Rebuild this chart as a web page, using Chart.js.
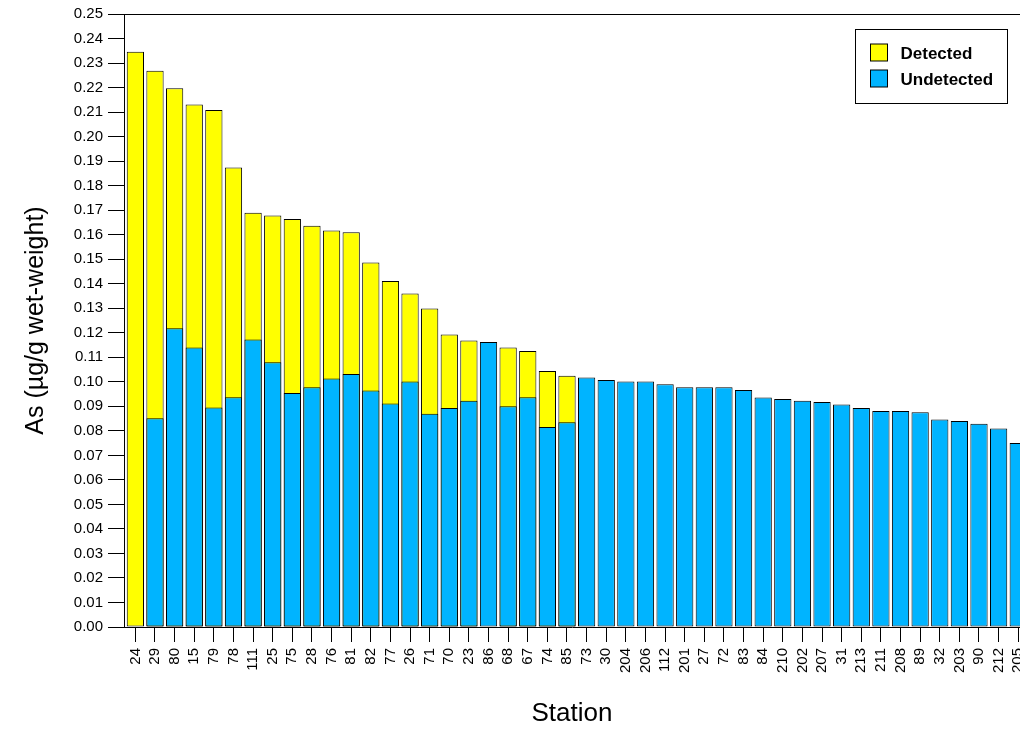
<!DOCTYPE html>
<html>
<head>
<meta charset="utf-8">
<script src="https://cdn.jsdelivr.net/npm/chart.js@4"></script>
<style>
  html, body { margin: 0; padding: 0; background: #fff; overflow: hidden; }
  #wrap { width: 1020px; height: 729px; position: relative; }
</style>
</head>
<body>
<div id="wrap"><canvas id="chart"></canvas></div>
<script>
// stations along the x axis, in drawing order
const stations = ['24', '29', '80', '15', '79', '78', '111', '25', '75', '28', '76', '81', '82', '77', '26', '71', '70', '23', '86', '68', '67', '74', '85', '73', '30', '204', '206', '112', '201', '27', '72', '83', '84', '210', '202', '207', '31', '213', '211', '208', '89', '32', '203', '90', '212', '205'];

// full height of the yellow bar (null = no detected value)
const detected = [0.2346, 0.2269, 0.2197, 0.2131, 0.2108, 0.1874, 0.1689, 0.1678, 0.1664, 0.1636, 0.1617, 0.1610, 0.1487, 0.1411, 0.1360, 0.1299, 0.1193, 0.1168, null, 0.1140, 0.1126, 0.1044, 0.1025, null, null, null, null, null, null, null, null, null, null, null, null, null, null, null, null, null, null, null, null, null, null, null];

// blue bar, drawn in front of the yellow one
const undetected = [null, 0.0851, 0.1218, 0.1140, 0.0895, 0.0937, 0.1173, 0.1080, 0.0954, 0.0978, 0.1013, 0.1032, 0.0965, 0.0911, 0.1001, 0.0870, 0.0893, 0.0923, 0.1162, 0.0900, 0.0937, 0.0816, 0.0835, 0.1018, 0.1007, 0.1001, 0.1001, 0.0990, 0.0978, 0.0978, 0.0978, 0.0967, 0.0936, 0.0930, 0.0923, 0.0918, 0.0907, 0.0893, 0.0881, 0.0881, 0.0876, 0.0846, 0.0840, 0.0829, 0.0810, 0.0750];

const yTicks = [0, 0.25, 0.01]; // min, max, step

const FONT = 'Arial, "Liberation Sans", Helvetica, sans-serif';

// line across the top of the plot + the boxed legend
const frame = {
    id: 'frame',
    afterDraw(chart) {
        const { ctx, chartArea } = chart;
        ctx.save();
        ctx.strokeStyle = '#000';
        ctx.lineWidth = 1;
        ctx.beginPath();
        ctx.moveTo(chartArea.left, chartArea.top + 0.5);
        ctx.lineTo(chartArea.right, chartArea.top + 0.5);
        ctx.stroke();

        // legend box
        const bx = chartArea.right - 164.5, by = chartArea.top + 15.5;
        ctx.fillStyle = '#fff';
        ctx.fillRect(bx, by, 152, 74);
        ctx.strokeRect(bx, by, 152, 74);
        const items = [chart.data.datasets[0], chart.data.datasets[1]];
        items.forEach((ds, i) => {
            const y = by + 14.5 + i * 26;
            ctx.fillStyle = ds.backgroundColor;
            ctx.fillRect(bx + 15, y, 17, 17);
            ctx.strokeRect(bx + 15, y, 17, 17);
            ctx.fillStyle = '#000';
            ctx.font = 'bold 17px ' + FONT;
            ctx.textBaseline = 'middle';
            ctx.fillText(ds.label, bx + 45, y + 10);
        });
        ctx.restore();
    }
};

const ctx = document.getElementById('chart').getContext('2d');
const chart = new Chart(ctx, {
    type: 'bar',
    data: {
        datasets: [
            {
                label: 'Detected',
                data: stations.map((s, i) => ({ x: i, y: detected[i] })),
                backgroundColor: '#ffff00',
                borderColor: '#000',
                borderWidth: 1,
                borderSkipped: false,
                barPercentage: 0.88,
                categoryPercentage: 1,
                order: 2
            },
            {
                label: 'Undetected',
                data: stations.map((s, i) => ({ x: i, y: undetected[i] })),
                backgroundColor: '#00b4ff',
                borderColor: '#000',
                borderWidth: 1,
                borderSkipped: false,
                barPercentage: 0.88,
                categoryPercentage: 1,
                order: 1
            }
        ]
    },
    options: {
        responsive: true,
        maintainAspectRatio: false,
        animation: false,
        layout: { padding: { top: 14, right: 0, left: 0, bottom: 0 } },
        plugins: {
            legend: { display: false },
            tooltip: { enabled: false }
        },
        scales: {
            x: {
                type: 'linear',
                stacked: true,
                offset: false,
                min: -0.58,
                max: 45.09,
                afterBuildTicks: s => { s.ticks = stations.map((n, i) => ({ value: i })); },
                afterFit: s => {
                    s.height = 102;
                    // the last bar runs off the right edge, as in the source
                    s.paddingRight = 0;
                    s.paddingLeft = 0;
                },
                ticks: {
                    stepSize: 1,
                    autoSkip: false,
                    includeBounds: false,
                    minRotation: 90,
                    maxRotation: 90,
                    padding: 6,
                    color: '#000',
                    font: { family: FONT, size: 15 },
                    callback: v => stations[v]
                },
                grid: { offset: false, drawOnChartArea: false, tickLength: 15, color: '#000' },
                border: { color: '#000' },
                title: {
                    display: true,
                    text: 'Station',
                    color: '#000',
                    font: { family: FONT, size: 26 },
                    padding: { top: 0, bottom: 0 }
                }
            },
            y: {
                stacked: false,
                min: yTicks[0],
                max: yTicks[1],
                afterFit: s => { s.width = 124; },
                ticks: {
                    stepSize: yTicks[2],
                    autoSkip: false,
                    padding: 5,
                    color: '#000',
                    font: { family: FONT, size: 15 },
                    callback: v => v.toFixed(2)
                },
                grid: { drawOnChartArea: false, tickLength: 16, color: '#000' },
                border: { color: '#000' },
                title: {
                    display: true,
                    text: 'As (µg/g wet-weight)',
                    color: '#000',
                    font: { family: FONT, size: 25 },
                    padding: { top: 21, bottom: 0 }
                }
            }
        }
    },
    plugins: [frame]
});
</script>
</body>
</html>
